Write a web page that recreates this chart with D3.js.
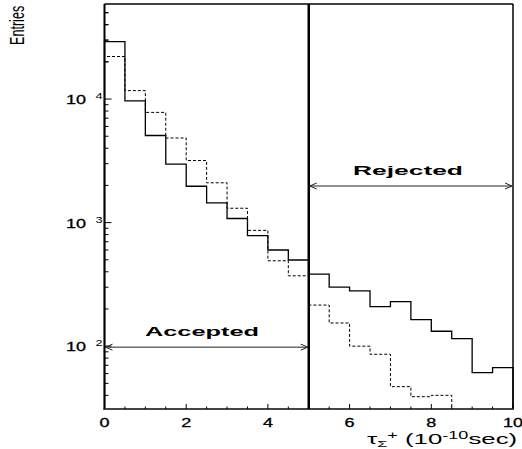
<!DOCTYPE html>
<html><head><meta charset="utf-8">
<script src="https://cdn.jsdelivr.net/npm/d3@7"></script>
<style>body{margin:0;background:#fff}svg{display:block}</style></head><body>
<svg id="c" width="522" height="449"></svg>
<script>
// ---- data ----
const binStarts = [0,0.5,1,1.5,2,2.5,3,3.5,4,4.5,5,5.5,6,6.5,7,7.5,8,8.5,9,9.5];
const binWidth = 0.5;
const solidCounts  = [29200,9650,5070,2970,1970,1445,1080,784,600,498,383,300,280,209,229,164,132,115,61,67];
const dottedCounts = [22100,11700,7800,4840,3180,2100,1307,865,491,371,215,154,100,86,47,39,40,0,0,0];
const xTickValues = [0,2,4,6,8,10];
const xTickLabels = ["0","2","4","6","8","10"];
const yDecades = [100,1000,10000];
const yDecadeExp = ["2","3","4"];
const cutValue = 5;

// ---- layout ----
const svg = d3.select("#c");
const L=104.5, R=513, T=4, B=409;
const x = d3.scaleLinear().domain([0,10]).range([L,R]);
const y = d3.scaleLog().domain([31,58800]).range([B,T]).clamp(true);
const yv = v => v>0 ? y(v) : B;
const font = "'Liberation Sans', Arial, sans-serif";

function stepPath(counts){
  const p = d3.path();
  p.moveTo(x(binStarts[0]), B);
  counts.forEach((c,i)=>{
    p.lineTo(x(binStarts[i]), yv(c));
    p.lineTo(x(binStarts[i]+binWidth), yv(c));
  });
  p.lineTo(x(binStarts[binStarts.length-1]+binWidth), B);
  return p.toString();
}
svg.append("path").attr("d", stepPath(dottedCounts)).attr("fill","none")
  .attr("stroke","#000").attr("stroke-width",1).attr("stroke-dasharray","3,2");
svg.append("path").attr("d", stepPath(solidCounts)).attr("fill","none")
  .attr("stroke","#000").attr("stroke-width",1.3);

// frame
svg.append("line").attr("x1",L).attr("x2",R).attr("y1",T).attr("y2",T).attr("stroke","#000").attr("stroke-width",1.5);
svg.append("line").attr("x1",R).attr("x2",R).attr("y1",T).attr("y2",B).attr("stroke","#000").attr("stroke-width",1.5);
svg.append("line").attr("x1",L).attr("x2",L).attr("y1",T).attr("y2",B+1).attr("stroke","#000").attr("stroke-width",2);
svg.append("line").attr("x1",L-1).attr("x2",R+1).attr("y1",B).attr("y2",B).attr("stroke","#444").attr("stroke-width",2);

// cut line
svg.append("line").attr("x1",x(cutValue)).attr("x2",x(cutValue)).attr("y1",T).attr("y2",B)
  .attr("stroke","#000").attr("stroke-width",2.5);

// y ticks
y.ticks().forEach(v=>{
  const major = yDecades.includes(v);
  svg.append("line").attr("x1",L).attr("x2",L+(major?7:4)).attr("y1",y(v)).attr("y2",y(v))
    .attr("stroke","#000").attr("stroke-width",1);
});
[20000,30000,40000,50000].forEach(v=>{
  svg.append("line").attr("x1",L).attr("x2",L+4).attr("y1",y(v)).attr("y2",y(v)).attr("stroke","#000").attr("stroke-width",1);
});
// x ticks
d3.range(0,21).forEach(i=>{
  const v = i*binWidth;
  const major = xTickValues.includes(v);
  svg.append("line").attr("x1",x(v)).attr("x2",x(v)).attr("y1",B).attr("y2",B-(major?5:2.5))
    .attr("stroke","#000").attr("stroke-width",1);
});

// x tick labels
xTickValues.forEach((v,i)=>{
  svg.append("text").attr("transform",`translate(${x(v)},427) scale(1.5,1)`)
    .attr("text-anchor","middle").attr("font-family",font).attr("font-size",12)
    .attr("stroke","#000").attr("stroke-width",0.3)
    .text(xTickLabels[i]);
});
// y tick labels
yDecades.forEach((v,i)=>{
  const g = svg.append("g").attr("transform",`translate(86,${y(v)+5}) scale(1.5,1)`);
  g.append("text").attr("text-anchor","end").attr("font-family",font).attr("font-size",12)
    .attr("stroke","#000").attr("stroke-width",0.3).text("10");
  g.append("text").attr("x",11).attr("y",-5).attr("text-anchor","end").attr("font-family",font).attr("font-size",8.5).text(yDecadeExp[i]);
});

// y title (condensed, tall glyphs)
svg.append("text").attr("transform","translate(24,45) rotate(-90) scale(1,1.6)")
  .attr("font-family",font).attr("font-size",12.6).text("Entries");

// x title
const xt = svg.append("text").attr("transform","translate(367,444) scale(1.72,1)")
  .attr("font-family",font).attr("font-size",15);
xt.append("tspan").text("τ");
xt.append("tspan").attr("font-size",9.5).attr("dy",3).text("Σ");
xt.append("tspan").attr("font-size",10.5).attr("dy",-8).text("+");
xt.append("tspan").attr("dy",5).text(" (10");
xt.append("tspan").attr("font-size",10.5).attr("dy",-5).text("-10");
xt.append("tspan").attr("dy",5).text("sec)");

// arrows
function arrow(x1,x2,yy){
  svg.append("line").attr("x1",x1).attr("x2",x2).attr("y1",yy).attr("y2",yy).attr("stroke","#222").attr("stroke-width",1);
  [[x1,1],[x2,-1]].forEach(([xx,s])=>{
    svg.append("path").attr("d",`M${xx+s*7},${yy-3}L${xx},${yy}L${xx+s*7},${yy+3}`)
      .attr("fill","none").attr("stroke","#222").attr("stroke-width",1);
  });
}
arrow(x(0)+1, x(cutValue)-1, y(100)+1);
arrow(x(cutValue)+1, x(10)-1, 186);

svg.append("text").attr("x",202).attr("y",336).attr("text-anchor","middle")
  .attr("font-family",font).attr("font-size",13).attr("font-weight","bold")
  .attr("textLength",114).attr("lengthAdjust","spacingAndGlyphs").text("Accepted");
svg.append("text").attr("x",408).attr("y",175).attr("text-anchor","middle")
  .attr("font-family",font).attr("font-size",13).attr("font-weight","bold")
  .attr("textLength",110).attr("lengthAdjust","spacingAndGlyphs").text("Rejected");
</script>
</body></html>
